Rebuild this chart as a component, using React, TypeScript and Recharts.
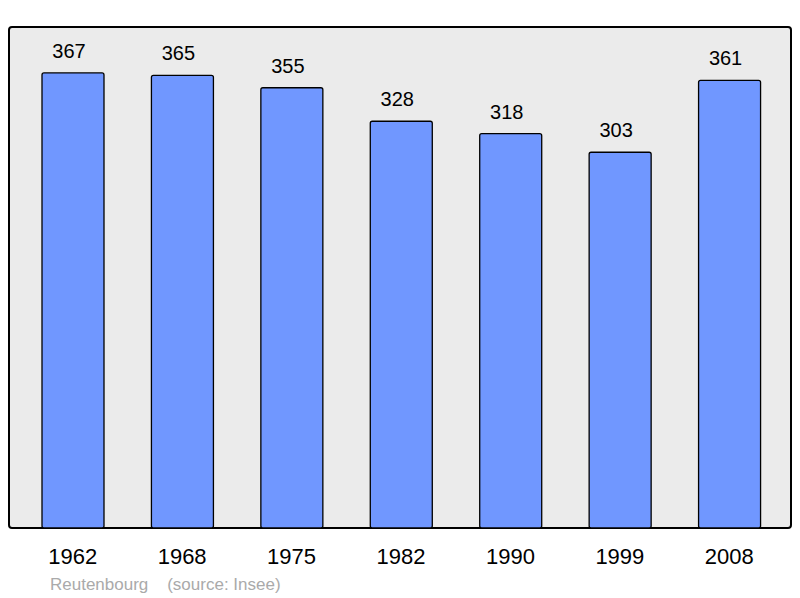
import { Bar, BarChart, LabelList, XAxis, YAxis } from "recharts"

const years = ["1962", "1968", "1975", "1982", "1990", "1999", "2008"]
const population = [367, 365, 355, 328, 318, 303, 361]

const data = years.map((year, i) => ({ year, population: population[i] }))

const App = () => {
    return (
    <div style={{ position: "absolute", left: 0, top: 0, width: 800, height: 598, background: "white", fontFamily: "'Liberation Sans', Arial, sans-serif" }}>
        <div style={{ position: "absolute", left: 8, top: 26, width: 780, height: 499, border: "2px solid #000", borderRadius: 4, background: "#ebebeb" }} />
        <div style={{ position: "absolute", left: 0, top: 0 }}>
        <BarChart
            width={800}
            height={598}
            data={data}
            margin={{ top: 27, right: 16, bottom: 40, left: 18 }}
            barSize={62}
        >
            <XAxis
                dataKey="year"
                height={30}
                axisLine={false}
                tickLine={false}
                tick={{ fill: "#000", fontSize: 22 }}
                dy={12}
            />
            <YAxis hide domain={[0, 404]} />
            <Bar dataKey="population" fill="#7097ff" stroke="#000" strokeWidth={1.3} radius={2} isAnimationActive={false}>
                <LabelList dataKey="population" position="top" offset={15} dx={-4} fill="#000" fontSize={20} />
            </Bar>
        </BarChart>
        </div>
        <div style={{ position: "absolute", left: 50, top: 575, fontSize: 17, color: "#aaaaaa", whiteSpace: "pre" }}>
            {"Reutenbourg    (source: Insee)"}
        </div>
    </div>
    )
}

export default App
